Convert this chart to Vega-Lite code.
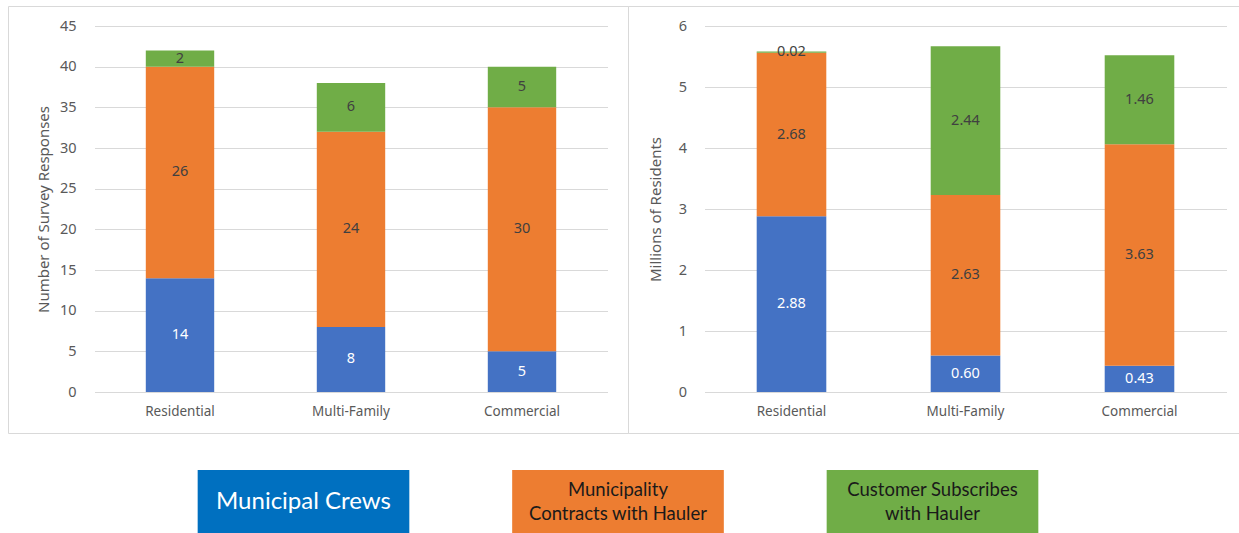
{
  "$schema": "https://vega.github.io/schema/vega-lite/v6.json",
  "background": "white",
  "padding": {"left": 7, "top": 5, "right": 0, "bottom": 0},
  "config": {
    "view": {"stroke": "#D9D9D9", "strokeWidth": 1},
    "font": "Noto Sans",
    "axis": {
      "labelColor": "#595959",
      "titleColor": "#595959",
      "gridColor": "#D9D9D9",
      "domain": false,
      "ticks": false,
      "labelFont": "Noto Sans",
      "titleFont": "Noto Sans",
      "titleFontWeight": "normal"
    }
  },
  "spacing": 36,
  "resolve": {"scale": {"color": "independent"}},
  "vconcat": [
    {
      "spacing": 0,
      "bounds": "flush",
      "resolve": {"scale": {"color": "independent"}},
      "hconcat": [
        {
          "width": 620,
          "height": 427,
          "data": {"values": [
            {"type": "Residential", "series": "Municipal Crews", "s": 1, "value": 14},
            {"type": "Residential", "series": "Municipality Contracts with Hauler", "s": 2, "value": 26},
            {"type": "Residential", "series": "Customer Subscribes with Hauler", "s": 3, "value": 2},
            {"type": "Multi-Family", "series": "Municipal Crews", "s": 1, "value": 8},
            {"type": "Multi-Family", "series": "Municipality Contracts with Hauler", "s": 2, "value": 24},
            {"type": "Multi-Family", "series": "Customer Subscribes with Hauler", "s": 3, "value": 6},
            {"type": "Commercial", "series": "Municipal Crews", "s": 1, "value": 5},
            {"type": "Commercial", "series": "Municipality Contracts with Hauler", "s": 2, "value": 30},
            {"type": "Commercial", "series": "Customer Subscribes with Hauler", "s": 3, "value": 5}
          ]},
          "encoding": {
            "x": {
              "field": "type", "type": "nominal",
              "sort": ["Residential", "Multi-Family", "Commercial"],
              "scale": {"range": [86.5, 599.5], "paddingInner": 0.6, "paddingOuter": 0.3},
              "axis": {"title": null, "labelAngle": 0, "offset": -41, "labelPadding": 12, "labelFontSize": 13.5, "grid": false}
            }
          },
          "layer": [
            {
              "mark": {"type": "bar"},
              "encoding": {
                "y": {
                  "field": "value", "type": "quantitative", "stack": "zero",
                  "scale": {"domain": [0, 45], "range": [386, 20], "nice": false},
                  "axis": {"values": [0, 5, 10, 15, 20, 25, 30, 35, 40, 45], "format": "d", "title": "Number of Survey Responses", "offset": -86, "labelPadding": 18, "labelFontSize": 14.5, "titleFontSize": 15, "titlePadding": 8, "grid": true}
                },
                "color": {
                  "field": "series", "type": "nominal", "legend": null,
                  "scale": {"domain": ["Municipal Crews", "Municipality Contracts with Hauler", "Customer Subscribes with Hauler"], "range": ["#4472C4", "#ED7D31", "#70AD47"]}
                },
                "order": {"field": "s"}
              }
            },
            {
              "mark": {"type": "text", "fontSize": 14.5},
              "encoding": {
                "y": {"field": "value", "type": "quantitative", "stack": "zero", "bandPosition": 0.5},
                "detail": {"field": "series"},
                "order": {"field": "s"},
                "text": {"field": "value", "type": "quantitative", "format": "d"},
                "color": {"condition": {"test": "datum.s === 1", "value": "#FFFFFF"}, "value": "#404040"}
              }
            }
          ]
        },
        {
          "width": 612,
          "height": 427,
          "data": {"values": [
            {"type": "Residential", "series": "Municipal Crews", "s": 1, "value": 2.88},
            {"type": "Residential", "series": "Municipality Contracts with Hauler", "s": 2, "value": 2.68},
            {"type": "Residential", "series": "Customer Subscribes with Hauler", "s": 3, "value": 0.02},
            {"type": "Multi-Family", "series": "Municipal Crews", "s": 1, "value": 0.60},
            {"type": "Multi-Family", "series": "Municipality Contracts with Hauler", "s": 2, "value": 2.63},
            {"type": "Multi-Family", "series": "Customer Subscribes with Hauler", "s": 3, "value": 2.44},
            {"type": "Commercial", "series": "Municipal Crews", "s": 1, "value": 0.43},
            {"type": "Commercial", "series": "Municipality Contracts with Hauler", "s": 2, "value": 3.63},
            {"type": "Commercial", "series": "Customer Subscribes with Hauler", "s": 3, "value": 1.46}
          ]},
          "encoding": {
            "x": {
              "field": "type", "type": "nominal",
              "sort": ["Residential", "Multi-Family", "Commercial"],
              "scale": {"range": [76.5, 598.5], "paddingInner": 0.6, "paddingOuter": 0.3},
              "axis": {"title": null, "labelAngle": 0, "offset": -41, "labelPadding": 12, "labelFontSize": 13.5, "grid": false}
            }
          },
          "layer": [
            {
              "mark": {"type": "bar"},
              "encoding": {
                "y": {
                  "field": "value", "type": "quantitative", "stack": "zero",
                  "scale": {"domain": [0, 6], "range": [386, 20], "nice": false},
                  "axis": {"values": [0, 1, 2, 3, 4, 5, 6], "format": "d", "title": "Millions of Residents", "offset": -76.5, "labelPadding": 18, "labelFontSize": 14.5, "titleFontSize": 15, "titlePadding": 15, "grid": true}
                },
                "color": {
                  "field": "series", "type": "nominal", "legend": null,
                  "scale": {"domain": ["Municipal Crews", "Municipality Contracts with Hauler", "Customer Subscribes with Hauler"], "range": ["#4472C4", "#ED7D31", "#70AD47"]}
                },
                "order": {"field": "s"}
              }
            },
            {
              "mark": {"type": "text", "fontSize": 14.5},
              "encoding": {
                "y": {"field": "value", "type": "quantitative", "stack": "zero", "bandPosition": 0.5},
                "detail": {"field": "series"},
                "order": {"field": "s"},
                "text": {"field": "value", "type": "quantitative", "format": ".2f"},
                "color": {"condition": {"test": "datum.s === 1", "value": "#FFFFFF"}, "value": "#404040"}
              }
            }
          ]
        }
      ]
    },
    {
      "width": 1232,
      "height": 63,
      "view": {"stroke": null},
      "data": {"values": [
        {"label": "Municipal Crews", "s": 1},
        {"label": "Municipality\nContracts with Hauler", "s": 2},
        {"label": "Customer Subscribes\nwith Hauler", "s": 3}
      ]},
      "encoding": {
        "x": {
          "field": "label", "type": "nominal", "sort": null, "axis": null,
          "scale": {"range": [138.25, 1081.75], "paddingInner": 0.327, "paddingOuter": 0.1635}
        }
      },
      "layer": [
        {
          "mark": {"type": "rect"},
          "encoding": {
            "color": {"field": "label", "type": "nominal", "sort": null, "legend": null,
              "scale": {"range": ["#0070C0", "#ED7D31", "#70AD47"]}}
          }
        },
        {
          "transform": [{"filter": "datum.s === 1"}],
          "mark": {"type": "text", "font": "Lato", "baseline": "middle", "fontSize": 24, "color": "#FFFFFF"},
          "encoding": {
            "text": {"field": "label"}
          }
        },
        {
          "transform": [{"filter": "datum.s !== 1"}],
          "mark": {"type": "text", "lineBreak": "\n", "lineHeight": 24, "font": "Lato", "baseline": "middle", "dy": -12, "fontSize": 18.5, "color": "#1A1A1A"},
          "encoding": {
            "text": {"field": "label"}
          }
        }
      ]
    }
  ]
}
